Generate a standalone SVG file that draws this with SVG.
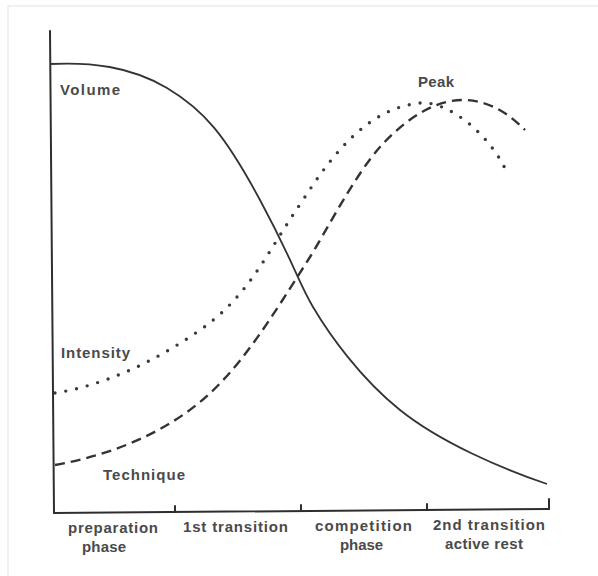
<svg xmlns="http://www.w3.org/2000/svg" width="598" height="576" viewBox="0 0 598 576">
<style>
.lbl{font-family:"Liberation Sans","DejaVu Sans",sans-serif;font-size:15px;font-weight:bold;fill:#4a4a4a}
.ax{fill:none;stroke:#2e2e2e;stroke-width:2;stroke-linecap:round}
.vol{fill:none;stroke:#333;stroke-width:1.8}
.int{fill:none;stroke:#3a3a3a;stroke-width:3.4;stroke-linecap:round;stroke-dasharray:0 11}
.tec{fill:none;stroke:#333;stroke-width:2.4;stroke-dasharray:10 6}
</style>
<rect x="0" y="0" width="598" height="576" fill="#fff"/>
<rect x="8" y="6" width="620" height="620" fill="none" stroke="#ececec" stroke-width="1.5"/>
<g id="axes">
<path class="ax" d="M50,31 L54,513 L549,509"/>
<path class="ax" d="M175,512 L175,506 M301,511 L301,505 M427,510 L427,504 M549,509 L549,499"/>
</g>
<g id="connectors">
<path id="volume-curve" class="vol" d="M50,64 C90,62 130,66 167,88 S225,135 260,200 S297,280 313,307 S360,378 400,410 S500,468 547,484"/>
<path id="intensity-curve" class="int" d="M55,393 C100,386 150,365 200,330 S265,255 303,200 C335,150 370,108 420,103 C445,100 490,132 508,175"/>
<path id="technique-curve" class="tec" d="M55,465 C110,455 160,435 200,402 S270,320 310,257 C325,233 355,175 380,147 C400,125 430,100 463,100 C490,100 510,115 525,130"/>
</g>
<g id="label-volume"><text class="lbl" x="60" y="95" textLength="60" lengthAdjust="spacing">Volume</text></g>
<g id="label-peak"><text class="lbl" x="418" y="87" textLength="36" lengthAdjust="spacing">Peak</text></g>
<g id="label-intensity"><text class="lbl" x="61" y="358" textLength="69" lengthAdjust="spacing">Intensity</text></g>
<g id="label-technique"><text class="lbl" x="103" y="480" textLength="82" lengthAdjust="spacing">Technique</text></g>
<g id="label-preparation">
<text class="lbl" x="68" y="533" textLength="90" lengthAdjust="spacing">preparation</text>
<text class="lbl" x="82" y="552" textLength="44" lengthAdjust="spacing">phase</text>
</g>
<g id="label-1st-transition"><text class="lbl" x="183" y="532" textLength="105" lengthAdjust="spacing">1st transition</text></g>
<g id="label-competition">
<text class="lbl" x="315" y="531" textLength="97" lengthAdjust="spacing">competition</text>
<text class="lbl" x="340" y="550" textLength="43" lengthAdjust="spacing">phase</text>
</g>
<g id="label-2nd-transition">
<text class="lbl" x="433" y="530" textLength="112" lengthAdjust="spacing">2nd transition</text>
<text class="lbl" x="445" y="549" textLength="78" lengthAdjust="spacing">active rest</text>
</g>
</svg>
